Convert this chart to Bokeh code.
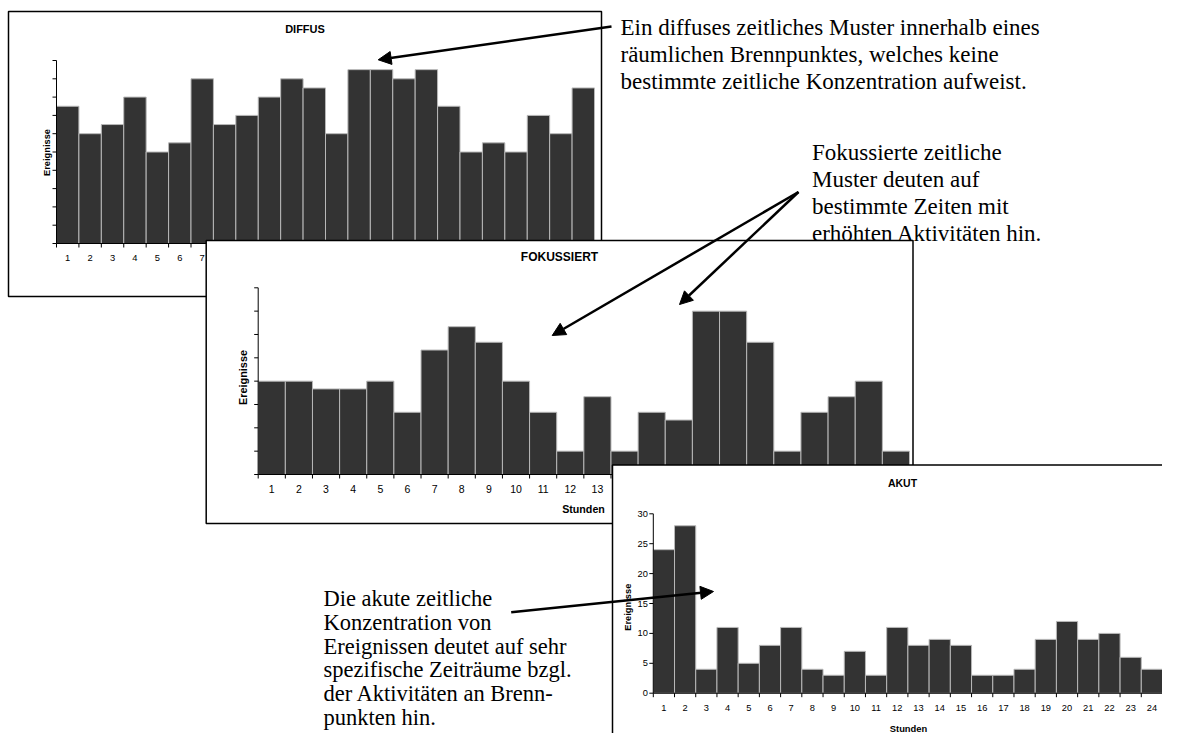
import math
from bokeh.plotting import figure
from bokeh.models import Range1d, Arrow, NormalHead
from bokeh.embed import file_html
from bokeh.resources import INLINE
from bokeh.core.properties import value

# ---------------- data ----------------
hours = list(range(1, 25))
hour_labels = [str(h) for h in hours]

diffus_values = [15, 12, 13, 16, 10, 11, 18, 13, 14, 16, 18, 17,
                 12, 19, 19, 18, 19, 15, 10, 11, 10, 14, 12, 17]
fokus_values = [12, 12, 11, 11, 12, 8, 16, 19, 17, 12, 8, 3,
                10, 3, 8, 7, 21, 21, 17, 3, 8, 10, 12, 3]
akut_values = [24, 28, 4, 11, 5, 8, 11, 4, 3, 7, 3, 11,
               8, 9, 8, 3, 3, 4, 9, 12, 9, 10, 6, 4]

diffus_yticks = [0, 2, 4, 6, 8, 10, 12, 14, 16, 18, 20]
fokus_yticks = [0, 3, 6, 9, 12, 15, 18, 21, 24]
akut_yticks = [0, 5, 10, 15, 20, 25, 30]
akut_ytick_labels = ["0", "5", "10", "15", "20", "25", "30"]

diffus_title = "DIFFUS"
fokus_title = "FOKUSSIERT"
akut_title = "AKUT"
x_title = "Stunden"
y_title = "Ereignisse"

diffus_note = ["Ein diffuses zeitliches Muster innerhalb eines",
               "räumlichen Brennpunktes, welches keine",
               "bestimmte zeitliche Konzentration aufweist."]
fokus_note = ["Fokussierte zeitliche",
              "Muster deuten auf",
              "bestimmte Zeiten mit",
              "erhöhten Aktivitäten hin."]
akut_note = ["Die akute zeitliche",
             "Konzentration von",
             "Ereignissen deutet auf sehr",
             "spezifische Zeiträume bzgl.",
             "der Aktivitäten an Brenn-",
             "punkten hin."]

# ---------------- page / figure ----------------
W, H = 1162, 733
X0, Y0 = 0, 0
SANS = value("Liberation Sans")
SERIF = value("Liberation Serif")
BAR_FILL = "#333333"
BAR_LINE = "#b8b8b8"

p = figure(width=W, height=H, x_range=Range1d(X0, X0 + W), y_range=Range1d(Y0 + H, Y0),
           output_backend="svg", toolbar_location=None,
           x_axis_location=None, y_axis_location=None, min_border=0,
           outline_line_color=None, background_fill_color="white",
           border_fill_color="white")
p.grid.visible = False

extra_x, extra_y = {}, {}


def make_ranges(name, L, R, B, T, ymax):
    kx = (R - L) / len(hours)
    xs = 0.5 - (L - X0) / kx
    ky = (B - T) / ymax
    ys = -((Y0 + H) - B) / ky
    extra_x[name] = Range1d(xs, xs + W / kx)
    extra_y[name] = Range1d(ys, ys + H / ky)
    return kx, ky


def draw_panel(name, box, plot, vals, yticks, ytick_labels, title, title_pos, title_size,
               lab_size, xt_pos, xt_size, yt_pos, yt_size):
    L, R, B, T = plot
    ymax = yticks[-1]
    kx, ky = make_ranges(name, L, R, B, T, ymax)
    bl, bt, br, bb = box
    # panel background & frame
    p.quad(left=[bl], right=[br], top=[bt], bottom=[bb], fill_color="white",
           line_color="black", line_width=1.5)
    # title
    p.text(x=[title_pos[0]], y=[title_pos[1]], text=[title], text_font=SANS,
           text_font_style="bold", text_font_size=title_size, text_align="center",
           text_baseline="middle", text_color="black")
    rn = dict(x_range_name=name, y_range_name=name)
    # bars
    p.vbar(x=hours, top=vals, bottom=0, width=1, fill_color=BAR_FILL,
           line_color=BAR_LINE, line_width=1, **rn)
    # axes lines
    p.segment(x0=[0.5], y0=[0], x1=[0.5], y1=[ymax], line_color="black", line_width=1, **rn)
    p.segment(x0=[0.5], y0=[0], x1=[len(hours) + 0.5], y1=[0], line_color="black",
              line_width=1, **rn)
    # y ticks
    p.segment(x0=[0.5 - 4 / kx] * len(yticks), y0=yticks, x1=[0.5] * len(yticks), y1=yticks,
              line_color="black", line_width=1, **rn)
    # x ticks at category boundaries
    bounds = [h - 0.5 for h in hours] + [hours[-1] + 0.5]
    p.segment(x0=bounds, y0=[0] * len(bounds), x1=bounds, y1=[-4 / ky] * len(bounds),
              line_color="black", line_width=1, **rn)
    # x tick labels
    p.text(x=hours, y=[0] * len(hours), text=hour_labels, y_offset=14.5, text_font=SANS,
           text_font_size=lab_size, text_align="center", text_baseline="middle",
           text_color="black", **rn)
    # y tick labels
    if ytick_labels:
        p.text(x=[0.5] * len(yticks), y=yticks, text=ytick_labels, x_offset=-5.5,
               text_font=SANS, text_font_size=lab_size, text_align="right",
               text_baseline="middle", text_color="black", **rn)
    # axis titles
    if xt_pos is not None:
        p.text(x=[xt_pos[0]], y=[xt_pos[1]], text=[x_title], text_font=SANS,
               text_font_style="bold", text_font_size=xt_size, text_align="center",
               text_baseline="middle", text_color="black")
    p.text(x=[yt_pos[0]], y=[yt_pos[1]], text=[y_title], text_font=SANS,
           text_font_style="bold", text_font_size=yt_size, text_align="center",
           text_baseline="middle", angle=math.pi / 2, text_color="black")


# DIFFUS (back)
draw_panel("diffus", (8, 11, 601, 296), (56, 594, 243, 60), diffus_values,
           diffus_yticks, None, diffus_title, (304.5, 28.5), "11px",
           "9.4px", None, None, (46.7, 152), "9.3px")
# FOKUSSIERT (middle)
draw_panel("fokus", (205.7, 240, 912.5, 523), (257.7, 909, 474, 287.3), fokus_values,
           fokus_yticks, None, fokus_title, (559, 256), "12px",
           "10.5px", (583, 508), "10.7px", (242.7, 377), "10.9px")
# AKUT (front)
draw_panel("akut", (612, 464.5, 1220, 800), (652.8, 1162, 692.7, 513.3), akut_values,
           akut_yticks, akut_ytick_labels, akut_title, (902, 482.7), "10.5px",
           "9.3px", (908, 727.7), "9.4px", (627.4, 606.7), "9.3px")

p.extra_x_ranges = extra_x
p.extra_y_ranges = extra_y


# ---------------- notes ----------------
def note(lines, x, y_first, step=27.2, size="23px"):
    p.text(x=[x] * len(lines), y=[y_first + i * step for i in range(len(lines))], text=lines,
           text_font=SERIF, text_font_size=size, text_align="left",
           text_baseline="alphabetic", text_color="black")


note(diffus_note, 620, 26.5)
note(fokus_note, 811.5, 151.5)
note(akut_note, 323, 598, step=23.8, size="22.5px")

# ---------------- arrows ----------------
arrow_specs = [((611, 26), (377.7, 59.3)),
               ((798, 191.5), (551.7, 335)),
               ((798, 191.5), (679, 304)),
               ((510.7, 611.7), (713, 591))]
for (xs_, ys_), (xe_, ye_) in arrow_specs:
    p.add_layout(Arrow(end=NormalHead(size=13, fill_color="black", line_color="black",
                                      line_width=1),
                       x_start=xs_, y_start=ys_, x_end=xe_, y_end=ye_,
                       line_color="black", line_width=2.5))

open("out.html", "w").write(file_html(p, INLINE))
